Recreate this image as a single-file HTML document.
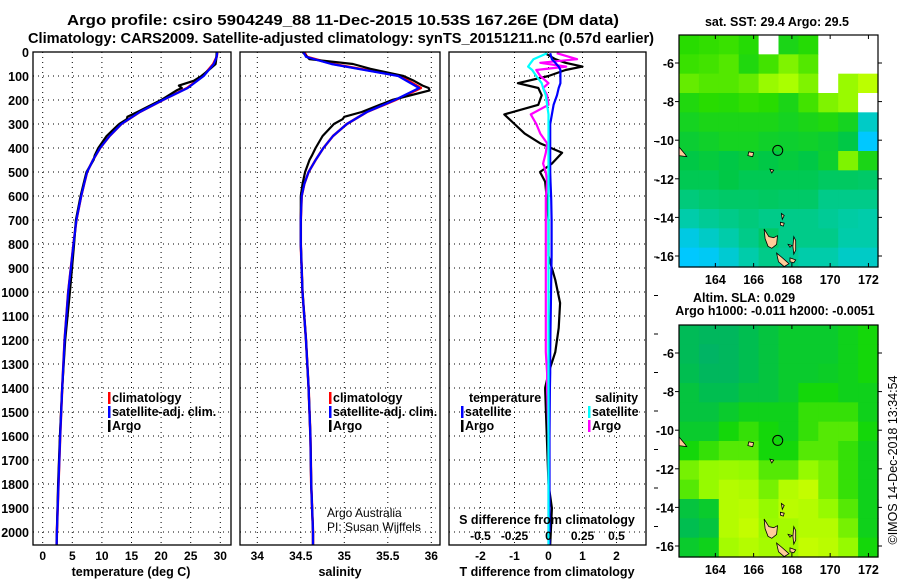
<!DOCTYPE html>
<html><head><meta charset="utf-8">
<style>
html,body{margin:0;padding:0;background:#fff;}
svg{display:block;font-family:"Liberation Sans",sans-serif;font-weight:bold;}
</style></head>
<body>
<svg id="chart" width="900" height="580" viewBox="0 0 900 580" xmlns="http://www.w3.org/2000/svg">
<rect x="0" y="0" width="900" height="580" fill="#fff"/>
<text x="343" y="25" font-size="14.5" text-anchor="middle" textLength="552" lengthAdjust="spacingAndGlyphs">Argo profile: csiro 5904249_88 11-Dec-2015 10.53S 167.26E (DM data)</text>
<text x="341" y="43" font-size="14.5" text-anchor="middle" textLength="626" lengthAdjust="spacingAndGlyphs">Climatology: CARS2009. Satellite-adjusted climatology: synTS_20151211.nc (0.57d earlier)</text>
<g id="panels"></g>
<g id="maps"></g>
</svg>
<script>
// ---------- data ----------
const depthTicks=[0,100,200,300,400,500,600,700,800,900,1000,1100,1200,1300,1400,1500,1600,1700,1800,1900,2000];
const tempTicks=[0,5,10,15,20,25,30];
const salTicks=[34,34.5,35,35.5,36];
const tdiffTicks=[-2,-1,0,1,2];
const sdiffTickLabels=["-0.5","-0.25","0","0.25","0.5"];
const sdiffTicks=[-0.5,-0.25,0,0.25,0.5];

const climDepth=[0,20,50,100,150,200,250,300,350,400,450,500,550,600,700,800,1000,1200,1400,1600,1800,2000,2055];
const climTemp=[29.5,29.4,28.8,27.1,24.4,20.3,16.4,13.3,11.3,9.7,8.5,7.5,7.0,6.5,5.7,5.2,4.3,3.7,3.3,2.95,2.67,2.4,2.35];
const climSal=[34.54,34.57,34.87,35.64,35.88,35.59,35.26,35.03,34.87,34.76,34.67,34.59,34.54,34.51,34.5,34.5,34.52,34.56,34.59,34.61,34.62,34.64,34.64];
const satTemp=[29.5,29.4,28.9,27.2,24.5,20.3,16.4,13.3,11.3,9.7,8.5,7.5,7.0,6.5,5.7,5.2,4.3,3.7,3.3,2.95,2.67,2.4,2.35];
const satSal=[34.53,34.56,34.85,35.62,35.86,35.58,35.26,35.03,34.87,34.76,34.67,34.59,34.54,34.51,34.5,34.5,34.52,34.56,34.59,34.61,34.62,34.64,34.64];

const argoDepth=[0,30,50,70,100,120,140,150,160,200,250,270,280,300,350,400,430,450,500,550,600,700,800,1000,1200,1400,1600,1800,2000,2055];
const argoTemp=[29.4,29.3,29.2,28.3,26.8,25.5,23.0,23.5,22.6,20.0,16.0,14.3,14.2,12.9,10.8,9.4,8.8,8.6,7.4,6.9,6.4,5.6,5.3,4.6,3.8,3.3,2.9,2.6,2.4,2.35];
const argoSal=[34.52,34.6,35.1,35.3,35.68,35.8,35.9,35.97,35.98,35.55,35.2,35.0,34.98,34.88,34.75,34.67,34.63,34.6,34.55,34.52,34.5,34.5,34.5,34.52,34.56,34.59,34.61,34.62,34.64,34.64];

const diffDepth=[5,30,45,61,75,100,130,150,180,220,260,300,340,380,420,465,500,540,610,700,850,950,1046,1150,1250,1338,1400,1600,1800,1900,2055];
const tDiffArgo=[-0.1,0.2,0.5,1.0,0.5,0.0,-0.9,-0.3,-0.2,-0.3,-1.3,-1.0,-0.7,-0.25,0.4,0.1,-0.25,-0.1,-0.05,0.0,0.0,0.2,0.34,0.3,0.2,0.0,-0.1,-0.05,0.0,0.1,0.05];
const tDiffSat=[0.05,0.1,0.2,0.3,0.35,0.35,0.35,0.3,0.25,0.15,0.1,0.05,0.05,0.05,0.05,0.05,0.05,0.06,0.08,0.09,0.09,0.08,0.07,0.06,0.05,0.05,0.04,0.03,0.03,0.03,0.03];
const sDiffArgo=[0.06,0.21,-0.06,0.13,-0.09,-0.06,0.0,-0.04,-0.01,0.0,-0.13,-0.09,-0.06,-0.01,-0.02,-0.04,-0.02,-0.01,-0.02,-0.02,-0.02,-0.02,-0.02,-0.02,-0.02,-0.01,-0.01,0.0,0.0,0.0,0.0];
const sDiffSat=[-0.01,-0.11,-0.13,-0.15,-0.12,-0.09,-0.05,-0.04,-0.02,-0.01,0.0,0.0,0.0,0.0,0.0,0.0,0.0,0.0,0.0,0.0,0.0,0.0,0.0,0.0,0.0,0.0,0.0,0.0,0.0,0.0,0.0];

// SST map (value 0..1 in colormap, -1 = missing), rows -4.5..-16.6, cols 162.1..172.5
const sstGrid=[
[0.75,0.76,0.77,0.74,-1,0.7,0.74,-1,-1,-1],
[0.77,0.78,0.8,0.72,0.78,0.85,0.8,-1,-1,-1],
[0.82,0.8,0.8,0.82,0.88,0.9,0.85,-1,0.88,0.92],
[0.72,0.75,0.74,0.76,0.75,0.7,0.78,0.85,0.88,-1],
[0.68,0.7,0.7,0.7,0.7,0.68,0.7,0.72,0.68,0.4],
[0.64,0.66,0.68,0.68,0.66,0.65,0.66,0.64,0.6,0.3],
[0.6,0.62,0.6,0.62,0.6,0.62,0.6,0.65,0.85,0.7],
[0.58,0.58,0.6,0.58,0.58,0.58,0.58,0.56,0.56,0.55],
[0.52,0.54,0.55,0.55,0.56,0.55,0.55,0.5,0.5,0.5],
[0.45,0.48,0.5,0.52,0.5,0.5,0.5,0.48,0.46,0.45],
[0.35,0.4,0.45,0.5,0.55,0.5,0.5,0.5,0.45,0.45],
[0.3,0.32,0.38,0.45,0.5,0.48,0.45,0.45,0.4,0.4]];
const slaGrid=[
[0.25,0.2,0.2,0.3,0.35,0.4,0.4,0.4,0.45,0.5],
[0.25,0.15,0.2,0.3,0.35,0.4,0.4,0.4,0.45,0.5],
[0.3,0.2,0.2,0.3,0.35,0.4,0.4,0.42,0.45,0.5],
[0.35,0.3,0.3,0.35,0.35,0.4,0.5,0.5,0.45,0.45],
[0.35,0.35,0.4,0.45,0.45,0.45,0.55,0.55,0.55,0.45],
[0.4,0.4,0.5,0.55,0.5,0.45,0.55,0.6,0.6,0.5],
[0.5,0.55,0.6,0.6,0.5,0.5,0.6,0.6,0.55,0.45],
[0.65,0.7,0.72,0.7,0.6,0.6,0.7,0.65,0.55,0.45],
[0.6,0.7,0.8,0.78,0.65,0.8,0.85,0.65,0.55,0.45],
[0.35,0.4,0.8,0.82,0.7,0.82,0.8,0.7,0.6,0.45],
[0.3,0.35,0.8,0.85,0.72,0.75,0.8,0.8,0.65,0.45],
[0.4,0.45,0.75,0.8,0.75,0.75,0.85,0.82,0.7,0.5]];
const lonTicks=[164,166,168,170,172];
const latTicks=[-6,-8,-10,-12,-14,-16];
const floatLon=167.26, floatLat=-10.53;

// ---------- helpers ----------
const NS="http://www.w3.org/2000/svg";
const panels=document.getElementById('panels');
const maps=document.getElementById('maps');
function mk(tag,attrs,parent){const e=document.createElementNS(NS,tag);for(const k in attrs)e.setAttribute(k,attrs[k]);(parent||panels).appendChild(e);return e;}
const Y0=52,PY=0.24,BOT=545;
const yD=d=>Y0+d*PY;
const xT=t=>42.7+t*5.92;
const xS=s=>257.3+(s-34)*87;
const xTd=v=>548.5+v*34;
const xSd=v=>548.5+v*136;
function poly(xs,ds,fx,color,w,name,parent){
  const pts=ds.map((d,i)=>fx(xs[i]).toFixed(1)+","+yD(d).toFixed(1)).join(" ");
  const p=mk('polyline',{points:pts,fill:'none',stroke:color,'stroke-width':w,'stroke-linejoin':'round'},parent);
  
  
  return p;
}
function txt(s,x,y,size,anchor,parent,fill){const t=mk('text',{x:x,y:y,'font-size':size,'text-anchor':anchor||'start',fill:fill||'#000'},parent);t.textContent=s;return t;}

// ---------- profile panels ----------
const panelDefs=[{l:33,r:231,name:'temperature-panel'},{l:240,r:440,name:'salinity-panel'},{l:449,r:646,name:'difference-panel'}];
panelDefs.forEach(pd=>{
  const g=mk('g',{});
  
  
  depthTicks.forEach(d=>{ if(d>0) mk('line',{x1:pd.l,x2:pd.r,y1:yD(d),y2:yD(d),stroke:'#000','stroke-width':1,'stroke-dasharray':'1,4'},g);});
  pd.g=g;
});
tempTicks.forEach(t=>mk('line',{x1:xT(t),x2:xT(t),y1:Y0,y2:BOT,stroke:'#000','stroke-dasharray':'1,4'},panelDefs[0].g));
salTicks.forEach(t=>mk('line',{x1:xS(t),x2:xS(t),y1:Y0,y2:BOT,stroke:'#000','stroke-dasharray':'1,4'},panelDefs[1].g));
tdiffTicks.forEach(t=>mk('line',{x1:xTd(t),x2:xTd(t),y1:Y0,y2:BOT,stroke:'#000','stroke-dasharray':'1,4'},panelDefs[2].g));

// y-axis labels
const ylab=mk('g',{});


depthTicks.forEach(d=>txt(String(d),29,yD(d)+5,12.5,'end',ylab));
// x labels
const xl1=mk('g',{});


tempTicks.forEach(t=>txt(String(t),xT(t),560,12,'middle',xl1));
const xl2=mk('g',{});


salTicks.forEach(t=>txt(String(t),xS(t),560,12,'middle',xl2));
const xl3=mk('g',{});


tdiffTicks.forEach(t=>txt(String(t),xTd(t),560,12,'middle',xl3));
const xl4=mk('g',{});


sdiffTicks.forEach((t,i)=>txt(sdiffTickLabels[i],xSd(t),540,12,'middle',xl4));
let t1=txt('temperature (deg C)',131,576,12.5,'middle');

let t2=txt('salinity',340,576,12.5,'middle');

let t3=txt('T difference from climatology',547,576,12.5,'middle');

let t4=txt('S difference from climatology',547,524,12.5,'middle');


// series
poly(climTemp,climDepth,xT,'#ff0000',2.5,'temperature-climatology-line',panelDefs[0].g);
poly(argoTemp,argoDepth,xT,'#000',2.2,'temperature-argo-line',panelDefs[0].g);
poly(satTemp,climDepth,xT,'#0000ff',2.2,'temperature-satellite-line',panelDefs[0].g);
poly(climSal,climDepth,xS,'#ff0000',2.5,'salinity-climatology-line',panelDefs[1].g);
poly(argoSal,argoDepth,xS,'#000',2.2,'salinity-argo-line',panelDefs[1].g);
poly(satSal,climDepth,xS,'#0000ff',2.2,'salinity-satellite-line',panelDefs[1].g);
poly(tDiffArgo,diffDepth,xTd,'#000',2.2,'t-diff-argo-line',panelDefs[2].g);
poly(sDiffArgo,diffDepth,xSd,'#ff00ff',2.2,'s-diff-argo-line',panelDefs[2].g);
poly(tDiffSat,diffDepth,xTd,'#0000ff',2.2,'t-diff-satellite-line',panelDefs[2].g);
poly(sDiffSat,diffDepth,xSd,'#00ffff',2.2,'s-diff-satellite-line',panelDefs[2].g);

// frames
panelDefs.forEach(pd=>{const f=mk('rect',{x:pd.l,y:Y0,width:pd.r-pd.l,height:BOT-Y0,fill:'none',stroke:'#000','stroke-width':1.3},pd.g);});
for(let y=141.5;y<545;y+=38.5){mk('line',{x1:654,x2:658,y1:y,y2:y,stroke:'#000'});}

// legends
function legItem(x,y,color,label,name){
  const g=mk('g',{});
  
  
  mk('rect',{x:x,y:y-10,width:2.5,height:12,fill:color},g);
  txt(label,x+4,y,12.5,'start',g);
}
legItem(108,402,'#ff0000','climatology','legend-climatology');
legItem(108,416,'#0000ff','satellite-adj. clim.','legend-satellite-adj');
legItem(108,430,'#000','Argo','legend-argo');
legItem(329,402,'#ff0000','climatology','legend-sal-climatology');
legItem(329,416,'#0000ff','satellite-adj. clim.','legend-sal-satellite-adj');
legItem(329,430,'#000','Argo','legend-sal-argo');
let lt=txt('temperature',469,402,12.5,'start');
let ls=txt('salinity',595,402,12.5,'start');
legItem(461,416,'#0000ff','satellite','legend-t-satellite');
legItem(461,430,'#000','Argo','legend-t-argo');
legItem(588,416,'#00ffff','satellite','legend-s-satellite');
legItem(588,430,'#ff00ff','Argo','legend-s-argo');
let aa=txt('Argo Australia',327,517,12,'start');aa.setAttribute('font-weight','normal');
let pi=txt('PI: Susan Wijffels',327,531,12,'start');pi.setAttribute('font-weight','normal');

// ---------- maps ----------
const LON0=162.1,LON1=172.5,LAT0=-4.55,LAT1=-16.57;
const ML=679,MR=878;
function lerp(a,b,t){return a+(b-a)*t;}
function cmap(stops,v){
  for(let i=1;i<stops.length;i++){ if(v<=stops[i][0]||i===stops.length-1){const a=stops[i-1],b=stops[i];let t=(v-a[0])/(b[0]-a[0]);t=Math.max(0,Math.min(1,t));
    return 'rgb('+[1,2,3].map(k=>Math.round(lerp(a[k],b[k],t))).join(',')+')';}}
}
const sstStops=[[0,0,0,150],[0.3,0,200,255],[0.45,0,204,170],[0.6,0,200,70],[0.75,40,220,0],[0.9,170,255,0],[1,255,255,0]];
const slaStops=[[0,0,170,120],[0.3,0,190,80],[0.5,20,215,10],[0.7,150,250,0],[1,240,255,0]];
const islands=[
 [[162.1,-10.35],[162.4,-10.7],[162.5,-10.85],[162.1,-10.8]],
 [[165.75,-10.6],[166.0,-10.65],[165.95,-10.85],[165.7,-10.8]],
 [[166.85,-11.5],[167.05,-11.55],[166.95,-11.7]],
 [[167.45,-13.8],[167.6,-13.9],[167.5,-14.1]],
 [[167.4,-14.25],[167.6,-14.3],[167.55,-14.45],[167.4,-14.4]],
 [[166.55,-14.6],[166.8,-15.0],[167.05,-15.05],[167.25,-14.95],[167.2,-15.4],[166.95,-15.6],[166.75,-15.5],[166.6,-15.1]],
 [[167.2,-15.85],[167.45,-16.05],[167.85,-16.4],[167.6,-16.55],[167.3,-16.3]],
 [[168.1,-15.0],[168.2,-15.2],[168.2,-15.7],[168.1,-15.9],[168.05,-15.5]],
 [[167.8,-15.4],[168.0,-15.45],[167.9,-15.55]],
 [[167.9,-16.1],[168.2,-16.2],[168.1,-16.35],[167.9,-16.3]]
];
function drawMap(top,bottom,grid,stops,name,emptyIsWhite){
  const g=mk('g',{},maps);
  
  
  const xL=lon=>ML+(lon-LON0)/(LON1-LON0)*(MR-ML);
  const yL=lat=>top+(lat-LAT0)/(LAT1-LAT0)*(bottom-top);
  const rows=grid.length,cols=grid[0].length;
  const cw=(MR-ML)/cols,ch=(bottom-top)/rows;
  grid.forEach((row,r)=>row.forEach((v,c)=>{
    const cell=mk('rect',{x:(ML+c*cw).toFixed(2),y:(top+r*ch).toFixed(2),width:(cw+0.6).toFixed(2),height:(ch+0.6).toFixed(2),fill:v<0?'#fff':cmap(stops,v)},g);
    
    
  }));
  islands.forEach(isl=>{
    const p=mk('polygon',{points:isl.map(q=>xL(q[0]).toFixed(1)+','+yL(q[1]).toFixed(1)).join(' '),fill:'#ffcc99',stroke:'#000','stroke-width':0.8},g);
    
    
  });
  const c=mk('circle',{cx:xL(floatLon),cy:yL(floatLat),r:5,fill:'none',stroke:'#000','stroke-width':1},g);
  
  
  mk('rect',{x:ML,y:top,width:MR-ML,height:bottom-top,fill:'none',stroke:'#000','stroke-width':1.2},g);
  lonTicks.forEach(lon=>{
    mk('line',{x1:xL(lon),x2:xL(lon),y1:top,y2:top+4,stroke:'#000'},g);
    mk('line',{x1:xL(lon),x2:xL(lon),y1:bottom,y2:bottom-4,stroke:'#000'},g);
    txt(String(lon),xL(lon),bottom+17,12.5,'middle',g);
  });
  latTicks.forEach(lat=>{
    mk('line',{x1:ML,x2:ML-4,y1:yL(lat),y2:yL(lat),stroke:'#000'},g);
    mk('line',{x1:MR,x2:MR+4,y1:yL(lat),y2:yL(lat),stroke:'#000'},g);
    txt(String(lat),674,yL(lat)+5,12.5,'end',g);
  });
}
drawMap(35,267,sstGrid,sstStops,'sst-map');
drawMap(325,557,slaGrid,slaStops,'sla-map');
let m1=txt('sat. SST: 29.4 Argo: 29.5',777,26,12.5,'middle',maps);
let m2=txt('Altim. SLA: 0.029',744,302,12.5,'middle',maps);
let m3=txt('Argo h1000: -0.011 h2000: -0.0051',775,315,12.5,'middle',maps);
let cr=txt('©IMOS 14-Dec-2018 13:34:54',0,0,12.5,'middle',maps);cr.setAttribute('font-weight','normal');
cr.setAttribute('transform','translate(897,460) rotate(-90)');

</script>
</body></html>
